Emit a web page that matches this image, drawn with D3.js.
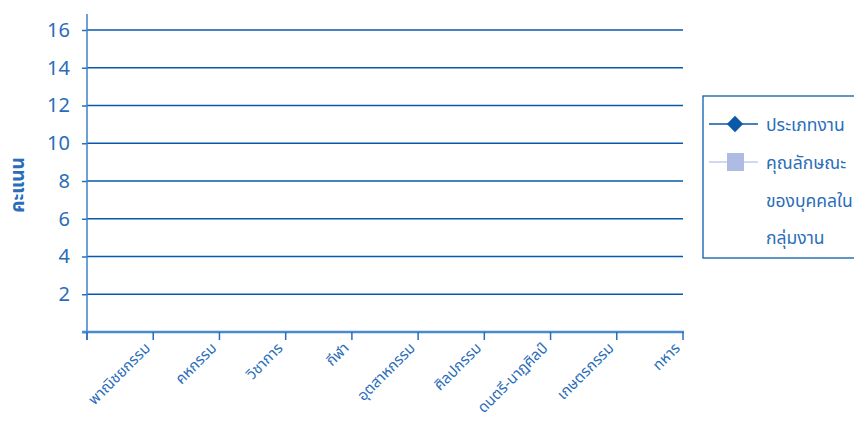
<!DOCTYPE html>
<html>
<head>
<meta charset="utf-8">
<script src="https://cdn.jsdelivr.net/npm/d3@7"></script>
<style>
  body { margin: 0; background: #fff; }
  text { font-family: "Noto Sans Thai", "Noto Sans", "DejaVu Sans", sans-serif; fill: #2a6dba; }
</style>
</head>
<body>
<div id="chart"></div>
<script>
// categories along the x axis
const categories = ['พาณิชยกรรม', 'คหกรรม', 'วิชาการ', 'กีฬา', 'อุตสาหกรรม',
    'ศิลปกรรม', 'ดนตรี-นาฏศิลป์', 'เกษตรกรรม', 'ทหาร'];
// both series are empty in the picture: no point is drawn
const jobType = [null, null, null, null, null, null, null, null, null];
const traits = [null, null, null, null, null, null, null, null, null];
const yTicks = [0, 2, 4, 6, 8, 10, 12, 14, 16];
const seriesNames = ['ประเภทงาน', ['คุณลักษณะ', 'ของบุคคลใน', 'กลุ่มงาน']];

const width = 854, height = 424;
const margin = {top: 30, right: 171, bottom: 92, left: 87};

const svg = d3.select('#chart')
    .append('svg')
    .attr('width', width)
    .attr('height', height);

const xScale = d3.scaleBand()
    .domain(categories)
    .range([margin.left, width - margin.right]);

const yScale = d3.scaleLinear()
    .domain([0, 16])
    .range([height - margin.bottom, margin.top]);

// gridlines
svg.append('g')
    .selectAll('line')
    .data(yTicks.slice(1))
    .join('line')
    .attr('x1', margin.left)
    .attr('x2', width - margin.right)
    .attr('y1', d => yScale(d))
    .attr('y2', d => yScale(d))
    .attr('stroke', '#0a58ab')
    .attr('stroke-width', 1.3);

// y axis
const yAxis = d3.axisLeft(yScale)
    .tickValues(yTicks)
    .tickSize(5)
    .tickPadding(12)
    .tickFormat(d => d === 0 ? '' : d);

const gy = svg.append('g')
    .attr('transform', `translate(${margin.left},0)`)
    .call(yAxis);
gy.select('.domain').remove();
gy.selectAll('.tick line').attr('stroke', '#2a6dba').attr('stroke-width', 1.5);
gy.selectAll('.tick text').style('font-size', '20px').attr('fill', '#2a6dba');
gy.append('line')
    .attr('x1', 0).attr('x2', 0)
    .attr('y1', 14).attr('y2', height - margin.bottom + 8)
    .attr('stroke', '#3d82c9').attr('stroke-width', 1.5);

// x axis
const xEdges = categories.map(c => xScale(c)).concat([width - margin.right]);
const gx = svg.append('g');
gx.append('line')
    .attr('x1', margin.left - 5).attr('x2', width - margin.right + 1)
    .attr('y1', yScale(0)).attr('y2', yScale(0))
    .attr('stroke', '#4a8ad0').attr('stroke-width', 2.5);
gx.selectAll('.xtick')
    .data(xEdges)
    .join('line')
    .attr('class', 'xtick')
    .attr('x1', d => d).attr('x2', d => d)
    .attr('y1', yScale(0)).attr('y2', yScale(0) + 8)
    .attr('stroke', '#2a6dba').attr('stroke-width', 1.5);
gx.selectAll('.xlabel')
    .data(categories)
    .join('text')
    .attr('class', 'xlabel')
    .attr('text-anchor', 'end')
    .attr('transform', d => `translate(${xScale(d) + xScale.bandwidth() - 2},${yScale(0) + 17}) rotate(-45)`)
    .style('font-size', '15px')
    .text(d => d);

// y axis title
svg.append('text')
    .attr('transform', `translate(24,${(margin.top + height - margin.bottom) / 2 + 4}) rotate(-90)`)
    .attr('text-anchor', 'middle')
    .style('font-size', '19px')
    .style('font-weight', 'bold')
    .text('คะแนน');

// series lines (empty)
const line = d3.line()
    .defined(d => d != null)
    .x((d, i) => xScale(categories[i]) + xScale.bandwidth() / 2)
    .y(d => yScale(d));
svg.append('path').datum(jobType).attr('d', line).attr('fill', 'none').attr('stroke', '#0a58a8').attr('stroke-width', 2);
svg.append('path').datum(traits).attr('d', line).attr('fill', 'none').attr('stroke', '#c3cbe9').attr('stroke-width', 2);

// legend
const lg = svg.append('g');
lg.append('rect')
    .attr('x', 703).attr('y', 96)
    .attr('width', 160).attr('height', 162)
    .attr('fill', 'none')
    .attr('stroke', '#0b5cad').attr('stroke-width', 1.3);
lg.append('line').attr('x1', 709).attr('x2', 758).attr('y1', 124).attr('y2', 124)
    .attr('stroke', '#0a58a8').attr('stroke-width', 1.5);
lg.append('path')
    .attr('transform', 'translate(735,124)')
    .attr('d', d3.symbol(d3.symbolDiamond2, 170)())
    .attr('fill', '#0a58a8');
lg.append('line').attr('x1', 709).attr('x2', 758).attr('y1', 162).attr('y2', 162)
    .attr('stroke', '#c3cbe9').attr('stroke-width', 1.5);
lg.append('rect')
    .attr('x', 727).attr('y', 153).attr('width', 17).attr('height', 18)
    .attr('fill', '#aebbe3');
lg.append('text').attr('x', 766).attr('y', 131).style('font-size', '17.5px').text(seriesNames[0]);
seriesNames[1].forEach((t, i) => {
    lg.append('text').attr('x', 766).attr('y', 169 + i * 37.5).style('font-size', '17.5px').text(t);
});
</script>
</body>
</html>
